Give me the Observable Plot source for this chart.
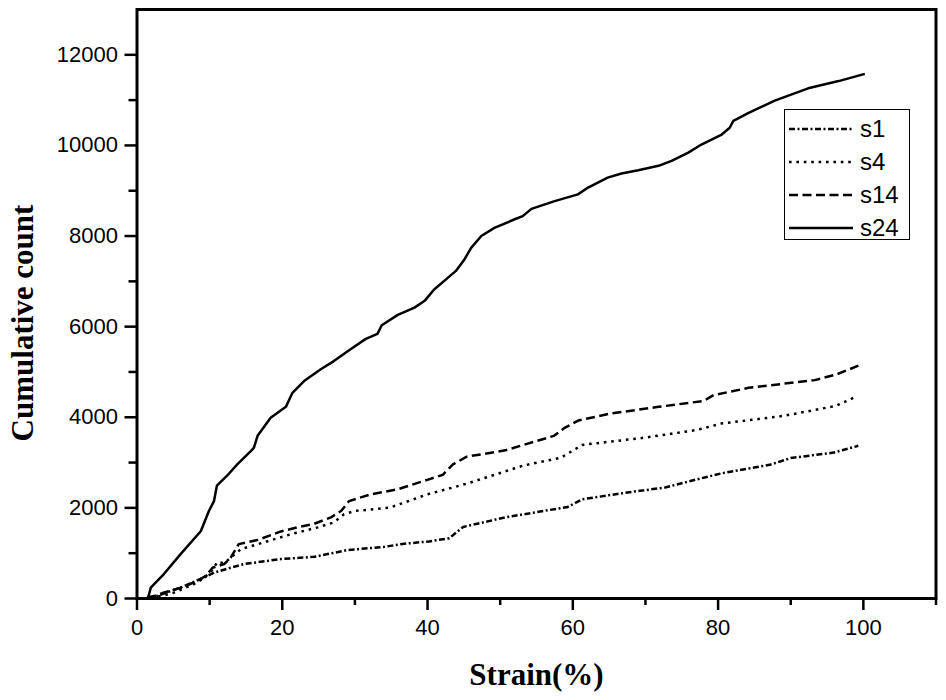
<!DOCTYPE html>
<html>
<head>
<meta charset="utf-8">
<script src="https://cdn.jsdelivr.net/npm/d3@7"></script>
<script src="https://cdn.jsdelivr.net/npm/@observablehq/plot@0.6"></script>
<style>
  html, body { margin: 0; padding: 0; background: #fff; }
  #wrap { position: relative; width: 946px; height: 700px; }
  #legend {
    position: absolute; left: 784px; top: 109px; width: 126px; height: 131px;
    border: 1.2px solid #000; background: #fff; box-sizing: border-box;
    font-family: "Liberation Sans", Arial, sans-serif; font-size: 24px; color: #000;
  }
  .row { position: absolute; left: 3px; height: 30px; display: flex; align-items: center; }
  .row svg { display: block; }
  .row span { margin-left: 6px; line-height: 30px; }
</style>
</head>
<body>
<div id="wrap"><div id="chart"></div><div id="legend"></div></div>
<script>
// ---- data ----
const seriesNames = ["s1", "s4", "s14", "s24"];

const s1Strain = [1.5, 2.8, 6.0, 9.2, 10.6, 12.9, 14.7, 19.8, 24.4, 29.0, 34.1, 36.3, 40.2, 43.0, 44.9, 50.7, 55.5, 59.3, 61.3, 67.5, 72.7, 77.1, 80.4, 87.1, 90.0, 95.9, 99.3];
const s1Count  = [0, 60, 240, 460, 570, 680, 760, 870, 920, 1070, 1140, 1200, 1260, 1330, 1580, 1790, 1920, 2020, 2190, 2340, 2450, 2630, 2760, 2950, 3100, 3220, 3370];

const s4Strain = [1.9, 3.5, 5.1, 8.3, 10.1, 11.1, 12.0, 12.9, 14.3, 17.5, 21.2, 24.9, 27.1, 28.5, 29.9, 34.9, 40.0, 43.5, 45.9, 53.1, 58.4, 61.3, 69.9, 77.1, 80.4, 89.0, 96.2, 99.2];
const s4Count  = [20, 60, 130, 350, 570, 810, 780, 900, 1090, 1240, 1420, 1570, 1680, 1860, 1930, 2010, 2300, 2450, 2560, 2930, 3110, 3390, 3550, 3720, 3860, 4030, 4250, 4470];

const s14Strain = [1.4, 2.5, 3.5, 4.6, 6.5, 8.3, 9.5, 10.4, 12.0, 12.9, 14.0, 16.6, 19.8, 22.1, 24.4, 26.7, 28.1, 29.2, 32.2, 35.9, 40.2, 42.1, 43.5, 45.4, 50.7, 57.4, 58.8, 60.8, 65.1, 71.8, 78.0, 79.4, 84.2, 89.0, 93.3, 96.2, 99.8];
const s14Count  = [20, 60, 120, 170, 260, 390, 500, 680, 760, 900, 1200, 1290, 1480, 1570, 1650, 1790, 1930, 2150, 2300, 2410, 2630, 2730, 2960, 3130, 3270, 3590, 3760, 3930, 4080, 4230, 4360, 4490, 4650, 4740, 4820, 4940, 5170];

const s24Strain = [0.3, 1.5, 1.9, 3.7, 6.0, 8.8, 9.9, 10.6, 11.0, 12.4, 13.8, 15.7, 16.1, 16.6, 18.4, 20.5, 21.4, 23.0, 25.3, 27.1, 29.4, 31.5, 33.1, 33.7, 35.9, 38.2, 39.6, 40.9, 42.3, 43.9, 45.1, 46.0, 47.4, 49.2, 52.0, 53.1, 54.3, 57.5, 60.7, 62.1, 64.8, 66.7, 69.0, 71.8, 73.6, 75.9, 77.7, 80.5, 81.6, 82.1, 84.2, 87.8, 92.4, 96.6, 100.2];
const s24Count  = [0, 0, 240, 540, 980, 1490, 1930, 2150, 2490, 2710, 2960, 3260, 3330, 3590, 3990, 4230, 4540, 4800, 5060, 5240, 5500, 5730, 5840, 6030, 6260, 6420, 6570, 6820, 7010, 7230, 7490, 7740, 8000, 8180, 8370, 8440, 8600, 8770, 8920, 9070, 9290, 9380, 9450, 9550, 9660, 9840, 10020, 10240, 10390, 10540, 10720, 10990, 11260, 11420, 11580];

const xMajorTicks = [0, 20, 40, 60, 80, 100];
const xMinorTicks = [10, 30, 50, 70, 90, 110];
const yMajorTicks = [0, 2000, 4000, 6000, 8000, 10000, 12000];
const yMinorTicks = [1000, 3000, 5000, 7000, 9000, 11000];
const xTitle = "Strain(%)";
const yTitle = "Cumulative count";

// ---- build ----
const toRows = (xs, ys) => xs.map((x, i) => ({x, y: ys[i]}));
const series = [
  {name: "s1",  rows: toRows(s1Strain, s1Count),   dash: "6,2.5,2,2.5"},
  {name: "s4",  rows: toRows(s4Strain, s4Count),   dash: "2.6,4.8"},
  {name: "s14", rows: toRows(s14Strain, s14Count), dash: "9,4.5"},
  {name: "s24", rows: toRows(s24Strain, s24Count), dash: null}
];

const sans = "'Liberation Sans', Arial, sans-serif";
const serif = "'Liberation Serif', 'Times New Roman', serif";

const chart = Plot.plot({
  width: 946,
  height: 700,
  marginLeft: 136.5,
  marginRight: 10.5,
  marginTop: 9,
  marginBottom: 102,
  style: {fontFamily: sans, color: "#000", background: "#fff"},
  x: {domain: [0, 110]},
  y: {domain: [0, 13000]},
  marks: [
    Plot.axisX({ticks: xMajorTicks, tickSize: 12, tickPadding: 9, tickFormat: d => String(d), fontSize: 22, strokeWidth: 2.5, label: null}),
    Plot.axisX({ticks: xMinorTicks, tickSize: 7, tickFormat: () => "", strokeWidth: 2.5, label: null}),
    Plot.axisX({ticks: [], label: xTitle, labelAnchor: "center", labelArrow: "none", labelOffset: 86,
      fontFamily: serif, fontWeight: "bold", fontSize: 31}),
    Plot.axisY({ticks: yMajorTicks, tickSize: 12, tickPadding: 7, tickFormat: d => String(d), fontSize: 22, strokeWidth: 2.5, label: null}),
    Plot.axisY({ticks: yMinorTicks, tickSize: 8, tickFormat: () => "", strokeWidth: 2.5, label: null}),
    Plot.text([yTitle], {text: d => d, frameAnchor: "left", rotate: -90, lineAnchor: "top", textAnchor: "middle",
      dx: -126, dy: 19, fontFamily: serif, fontWeight: "bold", fontSize: 31, fill: "#000"}),
    ...series.map(s => Plot.line(s.rows, {x: "x", y: "y", stroke: "#000", strokeWidth: 2.5,
      strokeDasharray: s.dash || undefined, strokeLinejoin: "round", strokeLinecap: "butt"})),
    Plot.frame({stroke: "#000", strokeWidth: 3})
  ]
});
document.getElementById("chart").appendChild(chart);

// ---- legend ----
const legend = document.getElementById("legend");
const rowTops = [4, 37, 70, 103];
series.forEach((s, i) => {
  const row = document.createElement("div");
  row.className = "row";
  row.style.top = rowTops[i] + "px";
  const svgNS = "http://www.w3.org/2000/svg";
  const svg = document.createElementNS(svgNS, "svg");
  svg.setAttribute("width", 66);
  svg.setAttribute("height", 30);
  const ln = document.createElementNS(svgNS, "line");
  ln.setAttribute("x1", 1); ln.setAttribute("x2", 65);
  ln.setAttribute("y1", 15); ln.setAttribute("y2", 15);
  ln.setAttribute("stroke", "#000");
  ln.setAttribute("stroke-width", 2.4);
  if (s.dash) ln.setAttribute("stroke-dasharray", s.dash);
  svg.appendChild(ln);
  const label = document.createElement("span");
  label.textContent = seriesNames[i];
  row.appendChild(svg);
  row.appendChild(label);
  legend.appendChild(row);
});
</script>
</body>
</html>
